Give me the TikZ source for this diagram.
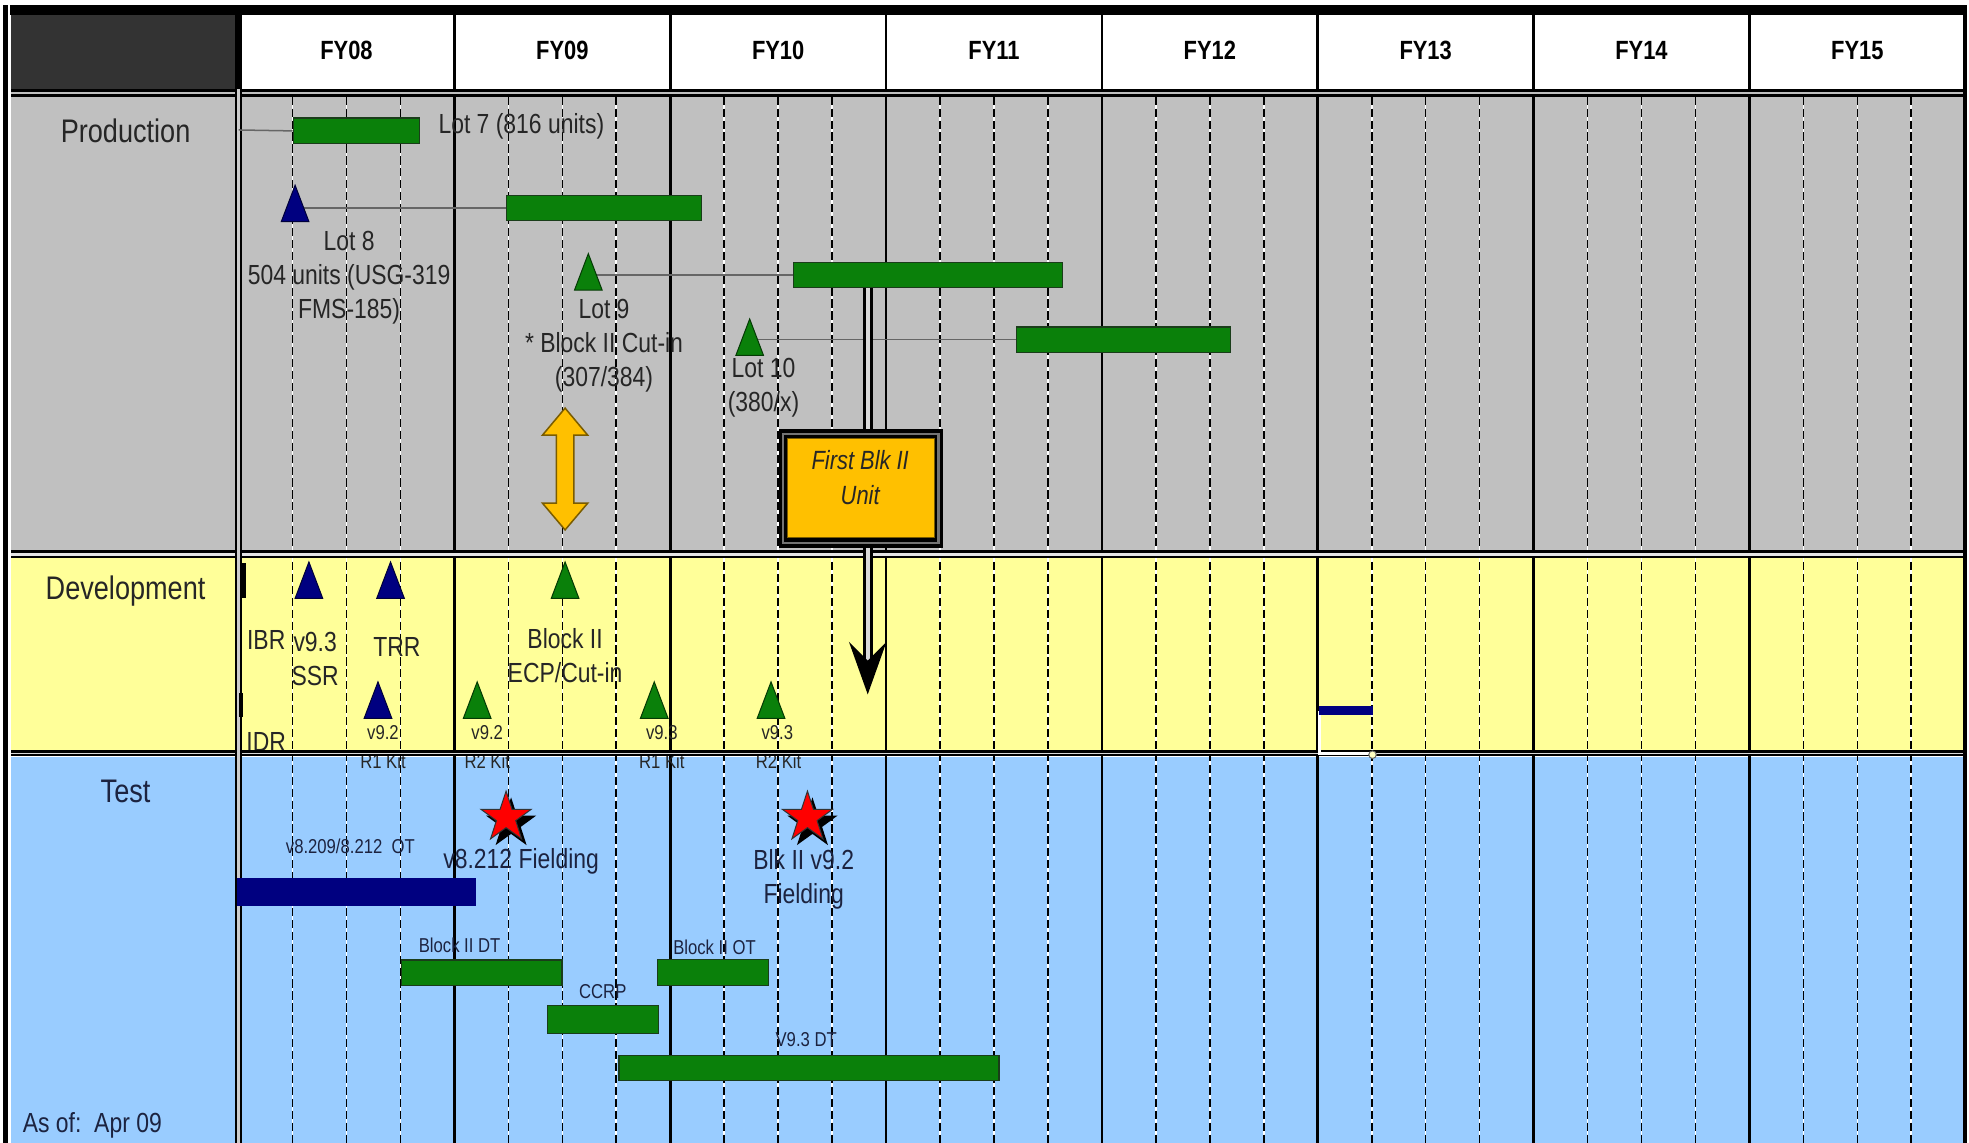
\documentclass[tikz,border=0pt]{standalone}
\usepackage{fontspec}
\setmainfont{Liberation Sans}[FakeStretch=0.83]
\usetikzlibrary{shapes.geometric}
\definecolor{lgray}{HTML}{C0C0C0}
\definecolor{lyel}{HTML}{FFFF99}
\definecolor{lblue}{HTML}{99CCFF}
\definecolor{hdark}{HTML}{333333}
\definecolor{gbar}{HTML}{0A800A}
\definecolor{gedge}{HTML}{1A3D1A}
\definecolor{navy}{HTML}{000080}
\definecolor{gold}{HTML}{FFC000}
\definecolor{goldedge}{HTML}{7A5C00}
\definecolor{txt}{HTML}{262626}
\definecolor{txtb}{HTML}{1C2340}
\newcommand\mytri[4]{%
  \coordinate (#1) at (#2,#3+15);
  \filldraw[fill=#4, draw=black!55!#4, line width=0.8pt, line join=miter] (#2,#3) -- (#2+11,#3+29) -- (#2-11,#3+29) -- cycle;}
\begin{document}
\begin{tikzpicture}[x=1pt,y=-1pt,
  fy/.style={font=\fontsize{21}{25}\selectfont\bfseries, text=black},
  lane/.style={font=\fontsize{26}{30}\selectfont, text=txt},
  lab/.style={font=\fontsize{22}{27}\selectfont, text=txt, align=center, inner sep=0pt},
  sml/.style={font=\fontsize{16}{23}\selectfont, text=txt, align=center, inner sep=0pt},
  gbarst/.style={draw=gedge, fill=gbar, line width=1pt, inner sep=0pt, rectangle, anchor=north west},
  conn/.style={draw=black!60, line width=1.2pt},
  starst/.style={star, star points=5, star point ratio=2.6, minimum size=42pt, inner sep=0pt}
]
\useasboundingbox (0,0) rectangle (1568,910);
\fill[white] (0,0) rectangle (1568,910);
% lanes
\fill[hdark] (8.5,12) rectangle (188,71);
\fill[white] (190,12) rectangle (1563,71);
\fill[lgray] (8.5,77) rectangle (1563,438);
\fill[lyel] (8.5,444) rectangle (1563,597.5);
\fill[lblue] (8.5,603) rectangle (1563,910);
% quarter lines
\foreach \k in {0,...,7}{\foreach \q in {1,2,3}{
  \draw[white, line width=1.3pt] ({190+\k*171.875+\q*42.97},77) -- ++(0,833);
  \draw[black, line width=1.3pt, dash pattern=on 6.5pt off 3pt] ({190+\k*171.875+\q*42.97},77) -- ++(0,833);
}}
% year lines
\foreach \k in {1,...,7}{\draw[black, line width=2.2pt] ({190+\k*171.875},12) -- ({190+\k*171.875},910);}
% header labels
\foreach \k/\t in {0/FY08,1/FY09,2/FY10,3/FY11,4/FY12,5/FY13,6/FY14,7/FY15}{
  \node[fy] (fy\k) at ({190+(\k+0.5)*171.875},40) {\t};}
% texts overlapped by lane separators
\node[lab] (idr) at (212,591) {IDR};
\node[sml] (k1a) at (305,583) {v9.2};
\node[sml] (k1b) at (305,606) {R1 Kit};
\node[sml] (k2a) at (388,583) {v9.2};
\node[sml] (k2b) at (388,606) {R2 Kit};
\node[sml] (k3a) at (527,583) {v9.3};
\node[sml] (k3b) at (527,606) {R1 Kit};
\node[sml] (k4a) at (619,583) {v9.3};
\node[sml] (k4b) at (620,606) {R2 Kit};
% lane separators
\fill[black] (8.5,71) rectangle (1563,77);
\fill[black!25] (8.5,73) rectangle (1563,75);
\fill[black] (8.5,438) rectangle (1563,444.5);
\fill[black!10] (8.5,440) rectangle (1563,442.5);
\fill[black] (8.5,597.3) rectangle (1563,602);
\fill[black!15] (8.5,599.3) rectangle (1563,600.8);
\fill[black] (187.2,12) rectangle (193,910);
\fill[black!20] (189,71) rectangle (191.1,910);
% outer border
\fill[black] (8,4) rectangle (1566.5,12);
\fill[black] (2.5,4) rectangle (6.5,910);
\fill[black] (1563,4) rectangle (1566.5,910);
% lane labels
\node[lane] (lp) at (100,104) {Production};
\node[lane] (ld) at (100,471) {Development};
\node[lane, text=txtb] (lt) at (100,630) {Test};
\node[lab, anchor=west, text=txtb] (asof) at (18,896) {As of:\ \ Apr 09};
% ---------- Production ----------
\node[gbarst, minimum width=100.5pt, minimum height=20.5pt] (b7) at (233,93.5) {};
\node[gbarst, minimum width=155pt, minimum height=20pt] (b8) at (403,155) {};
\node[gbarst, minimum width=214pt, minimum height=20pt] (b9) at (631.5,208.5) {};
\node[gbarst, minimum width=170.5pt, minimum height=20pt] (b10) at (809,260) {};
\coordinate (l7) at (190,103.5);
\coordinate (t8) at (235,165);
\coordinate (t9) at (468.5,218);
\coordinate (t10) at (597,270);
\draw[conn] (l7) -- (b7.west);
\draw[conn] (t8 |- b8.west) -- (b8.west);
\draw[conn] (t9 |- b9.west) -- (b9.west);
\draw[conn] (t10 |- b10.west) -- (b10.west);
\mytri{p8}{235}{147.5}{navy}
\mytri{p9}{468.5}{202}{gbar}
\mytri{p10}{597}{254}{gbar}
\node[lab, anchor=west] (l7t) at (349,101) {Lot 7 (816 units)};
\node[lab] (l8t) at (278,221) {Lot 8\\504 units (USG-319\\FMS-185)};
\node[lab] (l9t) at (481,275) {Lot 9\\* Block II Cut-in\\(307/384)};
\node[lab] (l10t) at (608,309) {Lot 10\\(380/x)};
% yellow double arrow
\filldraw[fill=gold, draw=goldedge, line width=1.2pt, line join=miter]
  (450,325) -- (468,346.5) -- (457,346.5) -- (457,400.7) -- (468,400.7) -- (450,422)
  -- (432,400.7) -- (443,400.7) -- (443,346.5) -- (432,346.5) -- cycle;
% First Blk II box and arrow
\node[fill=black, minimum width=131pt, minimum height=94pt, inner sep=0pt] (box) at (685.5,389) {};
\fill[black!55] (622.5,344.5) rectangle (748.5,433.5);
\fill[black] (624.5,346.5) rectangle (746.5,431.5);
\node[fill=gold, draw=goldedge, line width=1pt, minimum width=117pt, minimum height=79pt, inner sep=0pt] (boxin) at (685.5,388.5) {};
\node[font=\fontsize{21}{28}\selectfont\itshape, text=txt, align=center] (boxt) at (685,380) {First Blk II\\Unit};
\coordinate (sh) at (691,0);
\coordinate (atip) at (691,553);
\draw[black, line width=8pt] (sh |- b9.south) -- (sh |- box.north);
\draw[white!85!black, line width=3pt] (sh |- b9.south) -- (sh |- box.north);
\draw[black, line width=8pt] (sh |- box.south) -- ([yshift=26pt]atip);
\draw[white!85!black, line width=3pt] (sh |- box.south) -- ([yshift=26pt]atip);
\fill[black] (atip) -- (676,511) -- (691,526) -- (706,511) -- cycle;
% ---------- Development ----------
\fill[black] (191,448) rectangle (195.5,476);
\fill[black] (190.5,552) rectangle (193.5,571);
\mytri{d1}{246}{447.5}{navy}
\mytri{d2}{311}{447.5}{navy}
\mytri{d3}{301}{543}{navy}
\mytri{d4}{380}{543}{gbar}
\mytri{d5}{450}{447.5}{gbar}
\mytri{d6}{521}{543}{gbar}
\mytri{d7}{614}{543}{gbar}
\node[lab] (ibr) at (212,510) {IBR};
\node[lab] (ssr) at (251,524.5) {v9.3\\SSR};
\node[lab] (trr) at (316,515) {TRR};
\node[lab] (ecp) at (450,522) {Block II\\ECP/Cut-in};
% FY13 small box
\draw[white, line width=2.5pt] (1050.5,566) -- (1050.5,600) -- (1092,600);
\fill[navy] (1050,562.5) rectangle (1093,569.5);
\draw[black!60, fill=lyel!60!white, line width=0.8pt] (1093,601) circle (3);
% ---------- Test ----------
\node[fill=navy, draw=navy, minimum width=190pt, minimum height=22pt, inner sep=0pt, anchor=north west] (ot82) at (188.5,699) {};
\node[sml, text=txtb] (ot82t) at (279,674) {v8.209/8.212\ \ OT};
\node[starst, fill=black] (s1sh) at (407,656) {};
\node[starst, fill=red, draw=black!80, line width=0.8pt] (s1) at (403,651) {};
\node[starst, fill=black] (s2sh) at (647,656) {};
\node[starst, fill=red, draw=black!80, line width=0.8pt] (s2) at (643,651) {};
\node[lab, text=txtb] (f1) at (415,686) {v8.212 Fielding};
\node[lab, text=txtb] (f2) at (640,700) {Blk II v9.2\\Fielding};
\node[gbarst, minimum width=127.5pt, minimum height=20pt] (dt) at (319.5,764) {};
\node[gbarst, minimum width=88.5pt, minimum height=20.5pt] (ot) at (523,763.5) {};
\node[gbarst, minimum width=88.5pt, minimum height=22pt] (ccrp) at (435.5,800.5) {};
\node[gbarst, minimum width=302.5pt, minimum height=20pt] (v93) at (492.5,840) {};
\node[sml, text=txtb] (dtt) at (366,753) {Block II DT};
\node[sml, text=txtb] (ott) at (569,754) {Block II OT};
\node[sml, text=txtb] (ccrpt) at (480,790) {CCRP};
\node[sml, text=txtb] (v93t) at (642,828) {V9.3 DT};
\end{tikzpicture}
\end{document}
